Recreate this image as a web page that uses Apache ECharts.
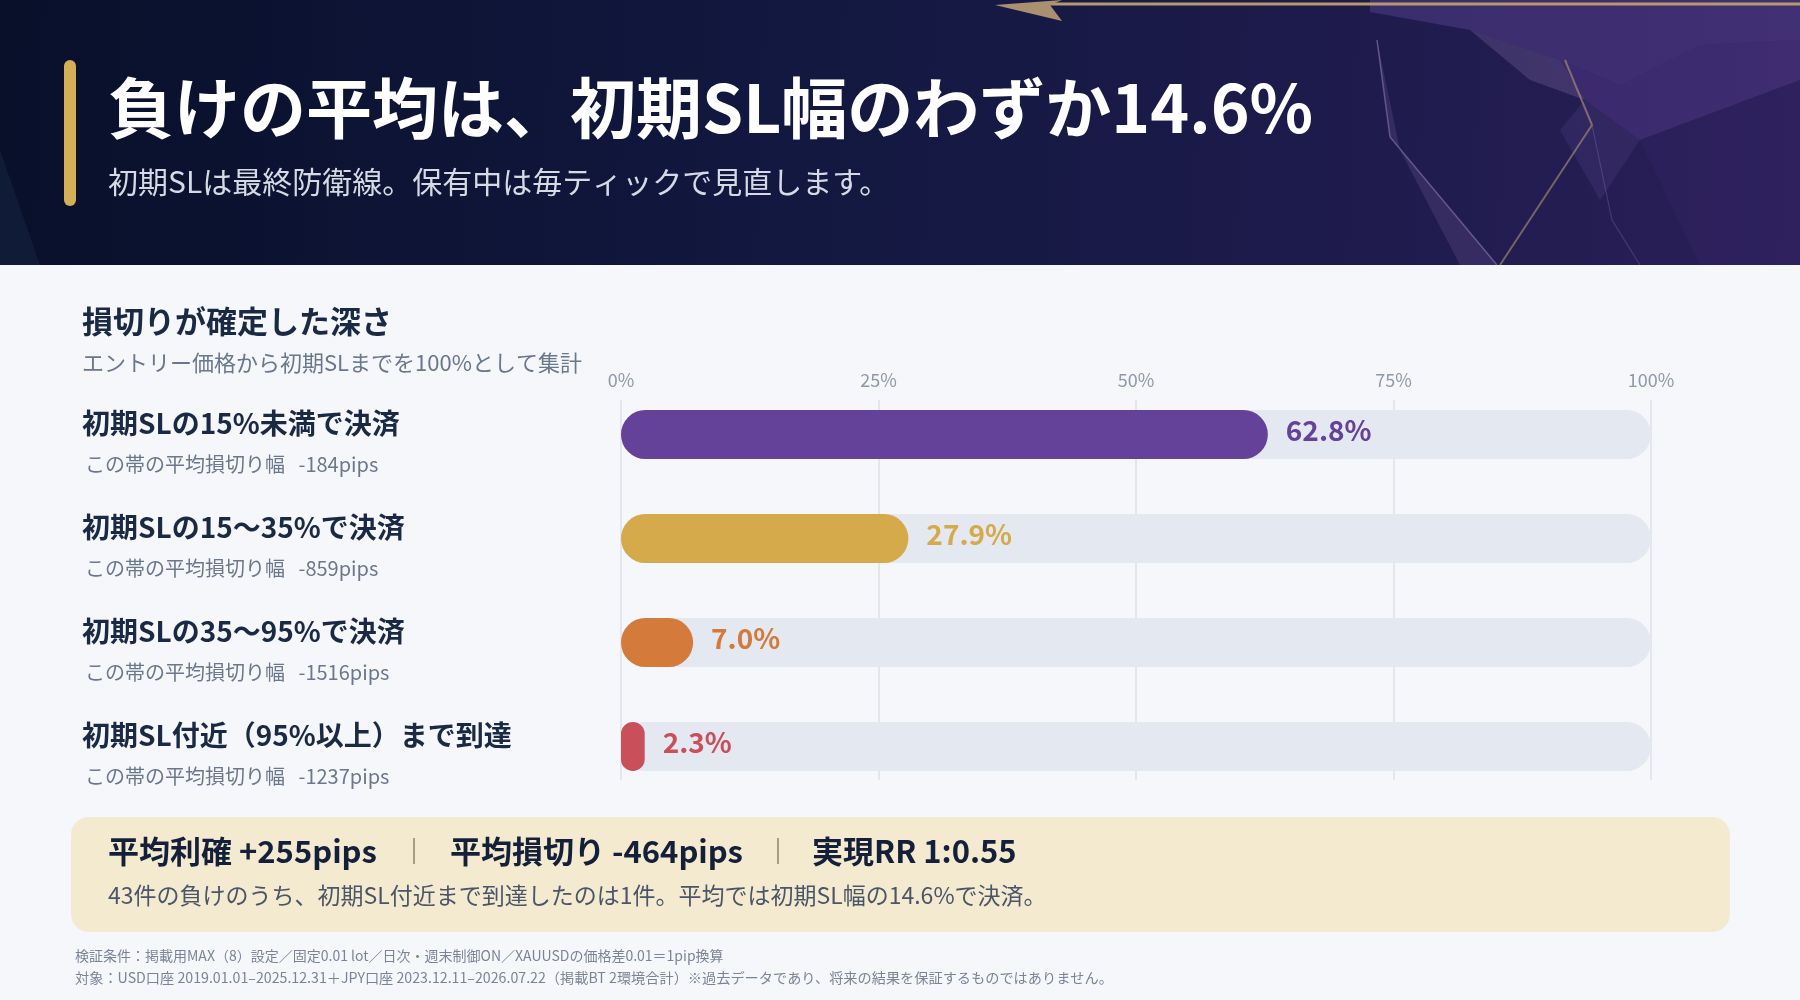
<!DOCTYPE html>
<html>
<head>
<meta charset="utf-8">
<script src="https://cdn.jsdelivr.net/npm/echarts@6/dist/echarts.min.js"></script>
<style>
html,body{margin:0;padding:0;background:#F5F7FB;}
#chart{width:1800px;height:1000px;}
</style>
</head>
<body>
<div id="chart"></div>
<script>
// ---- data ----
const categories = ['初期SLの15%未満で決済', '初期SLの15〜35%で決済', '初期SLの35〜95%で決済', '初期SL付近（95%以上）まで到達'];
const shares = [62.8, 27.9, 7.0, 2.3];
const avgLossPips = [-184, -859, -1516, -1237];
const barColors = ['#654299', '#D4AA4A', '#D47A3A', '#C9505A'];
const axisTicks = [0, 25, 50, 75, 100];
const avgWinPips = 255;
const avgLossAllPips = -464;
const realizedRR = '1:0.55';
const lossCount = 43;
const nearSLCount = 1;
const avgDepth = 14.6;

const FONT = '"Noto Sans CJK JP", "Noto Sans", sans-serif';
const chart = echarts.init(document.getElementById('chart'), null, {renderer: 'canvas'});

const graphic = [
  // header background
  {type: 'rect', z: -10, shape: {x: 0, y: 0, width: 1800, height: 265},
   style: {fill: new echarts.graphic.LinearGradient(0, 0, 1, 0.3, [
     {offset: 0, color: '#08102A'}, {offset: 0.45, color: '#121840'}, {offset: 0.75, color: '#1E1B4C'}, {offset: 1, color: '#2A1F58'}])}},
  // low-poly decoration
  {type: 'polygon', z: -9, shape: {points: [[1370,0],[1800,0],[1800,40],[1700,45],[1620,85],[1560,60],[1470,30],[1370,12]]}, style: {fill: 'rgba(110,80,170,0.35)'}},
  {type: 'polygon', z: -9, shape: {points: [[1560,60],[1620,85],[1700,45],[1800,40],[1800,80],[1640,140],[1585,100]]}, style: {fill: 'rgba(120,80,180,0.28)'}},
  {type: 'polygon', z: -9, shape: {points: [[1470,30],[1560,60],[1585,100],[1530,80]]}, style: {fill: 'rgba(170,140,200,0.22)'}},
  {type: 'polygon', z: -9, shape: {points: [[1377,40],[1390,137],[1497,265],[1460,265],[1400,150]]}, style: {fill: 'rgba(150,120,190,0.18)'}},
  {type: 'polygon', z: -9, shape: {points: [[1640,140],[1800,80],[1800,265],[1700,265]]}, style: {fill: 'rgba(60,40,110,0.25)'}},
  {type: 'polygon', z: -9, shape: {points: [[1585,100],[1640,140],[1600,200],[1560,130]]}, style: {fill: 'rgba(130,100,180,0.15)'}},
  {type: 'polyline', z: -8, shape: {points: [[1377,40],[1390,137],[1497,265]]}, style: {stroke: 'rgba(170,150,200,0.45)', lineWidth: 1.5, fill: null}},
  {type: 'polyline', z: -8, shape: {points: [[1565,60],[1592,125],[1500,265]]}, style: {stroke: 'rgba(190,160,120,0.55)', lineWidth: 2, fill: null}},
  {type: 'polyline', z: -8, shape: {points: [[1592,125],[1612,220],[1640,265]]}, style: {stroke: 'rgba(150,120,190,0.3)', lineWidth: 1.2, fill: null}},
  {type: 'polygon', z: -9, shape: {points: [[0,150],[40,265],[0,265]]}, style: {fill: 'rgba(40,60,90,0.25)'}},
  // arrow at top
  {type: 'line', z: -7, shape: {x1: 1040, y1: 4, x2: 1800, y2: 4}, style: {stroke: '#B59A6A', lineWidth: 3}},
  {type: 'polygon', z: -7, shape: {points: [[995,5],[1062,0],[1050,5],[1062,21]]}, style: {fill: '#A89070'}},
  // gold accent bar
  {type: 'rect', shape: {x: 64, y: 60, width: 12, height: 146, r: 6}, style: {fill: '#D4AF55'}},
  // title
  {type: 'text', x: 108, y: 108, style: {text: '負けの平均は、初期SL幅のわずか' + avgDepth + '%', font: 'bold 66px ' + FONT, fill: '#FFFFFF', verticalAlign: 'middle'}},
  {type: 'text', x: 108, y: 182, style: {text: '初期SLは最終防衛線。保有中は毎ティックで見直します。', font: '30px ' + FONT, fill: '#D5DAE5', verticalAlign: 'middle'}},
  // section heading
  {type: 'text', x: 82, y: 321, style: {text: '損切りが確定した深さ', font: 'bold 31px ' + FONT, fill: '#1B2A44', verticalAlign: 'middle'}},
  {type: 'text', x: 82, y: 363, style: {text: 'エントリー価格から初期SLまでを100%として集計', font: '22px ' + FONT, fill: '#6B778C', verticalAlign: 'middle'}},
  // summary box
  {type: 'rect', shape: {x: 71, y: 817, width: 1659, height: 115, r: 18}, style: {fill: '#F4EAD0'}},
  {type: 'text', x: 108, y: 851, style: {text: '平均利確 +' + avgWinPips + 'pips', font: 'bold 31px ' + FONT, fill: '#14203A', verticalAlign: 'middle'}},
  {type: 'line', shape: {x1: 414, y1: 838, x2: 414, y2: 864}, style: {stroke: '#8E826C', lineWidth: 1.5}},
  {type: 'text', x: 450, y: 851, style: {text: '平均損切り ' + avgLossAllPips + 'pips', font: 'bold 31px ' + FONT, fill: '#14203A', verticalAlign: 'middle'}},
  {type: 'line', shape: {x1: 778, y1: 838, x2: 778, y2: 864}, style: {stroke: '#8E826C', lineWidth: 1.5}},
  {type: 'text', x: 812, y: 851, style: {text: '実現RR ' + realizedRR, font: 'bold 31px ' + FONT, fill: '#14203A', verticalAlign: 'middle'}},
  {type: 'text', x: 108, y: 895, style: {text: lossCount + '件の負けのうち、初期SL付近まで到達したのは' + nearSLCount + '件。平均では初期SL幅の' + avgDepth + '%で決済。', font: '23px ' + FONT, fill: '#4A5568', verticalAlign: 'middle'}},
  // footnotes
  {type: 'text', x: 75, y: 956, style: {text: '検証条件：掲載用MAX（8）設定／固定0.01 lot／日次・週末制御ON／XAUUSDの価格差0.01＝1pip換算', font: '14px ' + FONT, fill: '#7B8497', verticalAlign: 'middle'}},
  {type: 'text', x: 75, y: 978, style: {text: '対象：USD口座 2019.01.01–2025.12.31＋JPY口座 2023.12.11–2026.07.22（掲載BT 2環境合計）※過去データであり、将来の結果を保証するものではありません。', font: '14.2px ' + FONT, fill: '#7B8497', verticalAlign: 'middle'}}
];

const option = {
  backgroundColor: '#F5F7FB',
  animation: false,
  textStyle: {fontFamily: FONT},
  graphic: graphic,
  grid: [
    {left: 621, width: 1030, top: 382.5, height: 416, containLabel: false},
    {left: 621, width: 1030, top: 400, height: 380, containLabel: false}
  ],
  xAxis: [
    {type: 'value', gridIndex: 0, min: 0, max: 100, show: false},
    {type: 'value', gridIndex: 1, min: 0, max: 100, interval: 25, position: 'top',
     axisLine: {show: false}, axisTick: {show: false},
     axisLabel: {formatter: v => axisTicks.includes(v) ? v + '%' : '', color: '#8F98A9', fontSize: 18, margin: 11, fontFamily: FONT},
     splitLine: {show: true, lineStyle: {color: '#DCE1E8', width: 1.5}}}
  ],
  yAxis: [
    {type: 'category', gridIndex: 0, data: categories, inverse: true,
     axisLine: {show: false}, axisTick: {show: false},
     axisLabel: {
       align: 'left', margin: 539,
       formatter: (v, i) => '{a|' + v + '}\n{b|この帯の平均損切り幅   ' + avgLossPips[i] + 'pips}',
       rich: {
         a: {fontSize: 28, fontWeight: 'bold', color: '#1B2A44', lineHeight: 60, fontFamily: FONT},
         b: {fontSize: 20, color: '#6B778C', lineHeight: 22, padding: [0, 0, 0, 3], fontFamily: FONT}
       }
     }},
    {type: 'value', gridIndex: 1, show: false}
  ],
  series: [{
    type: 'bar',
    xAxisIndex: 0, yAxisIndex: 0,
    barWidth: 49,
    data: shares.map((v, i) => ({value: v, itemStyle: {color: barColors[i]}, label: {color: barColors[i]}})),
    itemStyle: {borderRadius: 24.5},
    showBackground: true,
    backgroundStyle: {color: '#E4E8F0', borderRadius: 24.5},
    label: {show: true, position: 'right', distance: 18, offset: [0, -4], fontSize: 28, fontWeight: 'bold', fontFamily: FONT,
            formatter: p => p.value.toFixed(1) + '%'}
  }]
};
chart.setOption(option);
</script>
</body>
</html>
